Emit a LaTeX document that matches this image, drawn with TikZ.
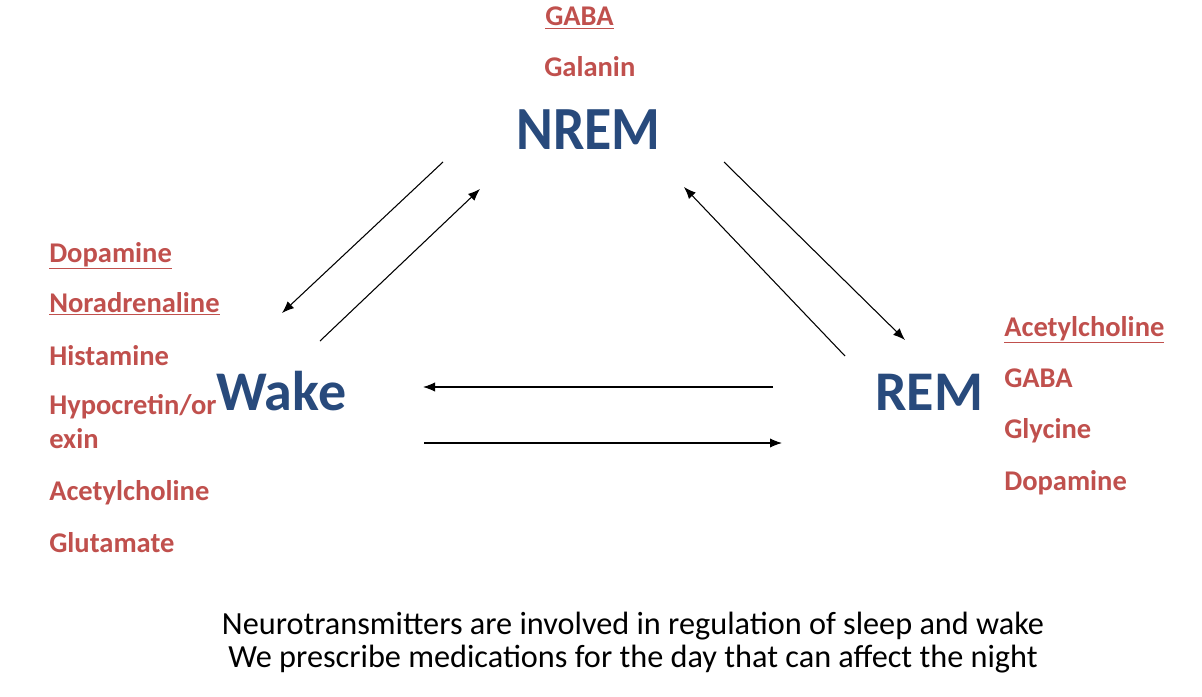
\documentclass[tikz,border=0pt]{standalone}
\usepackage{fontspec}
\setmainfont{Carlito}
\usetikzlibrary{arrows.meta}
\definecolor{nred}{RGB}{192,80,77}
\definecolor{nblue}{RGB}{40,74,124}
\tikzset{
  redlab/.style={anchor=base west, inner sep=0pt, text=nred, font=\bfseries\fontsize{21.4}{26}\selectfont},
  bignode/.style={anchor=base west, inner sep=0pt, text=nblue, font=\bfseries\fontsize{42}{48}\selectfont},
  captxt/.style={anchor=base, inner sep=0pt, text=black, font=\fontsize{24.2}{29}\selectfont},
  conn/.style={line width=0.8pt, -{Latex[length=9pt,width=7pt]}},
}
\newcommand{\ul}[1]{\underline{#1}}
\begin{document}
\begin{tikzpicture}[x=0.75pt,y=-0.75pt]
\useasboundingbox (0,0) rectangle (1202,696);
% top
\node[redlab] (gaba1) at (545,26) {\ul{GABA}};
\node[redlab] (galanin) at (544,76) {Galanin};
\node[bignode, font=\bfseries\fontsize{46}{52}\selectfont] (nrem) at (516,149) {\scalebox{0.91}[1]{NREM}};
% left
\node[redlab] (dop1) at (49,262) {\ul{Dopamine}};
\node[redlab] (nor) at (49,312) {\ul{Noradrenaline}};
\node[redlab] (his) at (49,365) {Histamine};
\node[redlab] (hyp) at (49,414) {Hypocretin/or};
\node[redlab] (exin) at (49,448) {exin};
\node[redlab] (ace1) at (49,500) {Acetylcholine};
\node[redlab] (glu) at (49,552) {Glutamate};
\node[bignode] (wake) at (216,410) {Wake};
% right
\node[bignode] (rem) at (875,410) {REM};
\node[redlab] (ace2) at (1004,336) {\ul{Acetylcholine}};
\node[redlab] (gaba2) at (1004,387) {GABA};
\node[redlab] (gly) at (1004,438) {Glycine};
\node[redlab] (dop2) at (1004,490) {Dopamine};
% caption
\node[captxt] (cap1) at (633,634) {Neurotransmitters are involved in regulation of sleep and wake};
\node[captxt] (cap2) at (633,667) {We prescribe medications for the day that can affect the night};
% connector end points
\coordinate (nw1) at (443,162);
\coordinate (wn1) at (282,313);
\coordinate (wn2) at (320,341);
\coordinate (nw2) at (480,189);
\coordinate (rn1) at (845,356);
\coordinate (nr1) at (684,187);
\coordinate (nr2) at (724,162);
\coordinate (rn2) at (905,340);
\coordinate (rw1) at (773,387);
\coordinate (wr1) at (423,387);
\coordinate (wr2) at (424,443);
\coordinate (rw2) at (782,443);
\draw[conn] (nw1) -- (wn1);
\draw[conn] (wn2) -- (nw2);
\draw[conn] (rn1) -- (nr1);
\draw[conn] (nr2) -- (rn2);
\draw[conn] (rw1) -- (wr1);
\draw[conn] (wr2) -- (rw2);
\end{tikzpicture}
\end{document}
